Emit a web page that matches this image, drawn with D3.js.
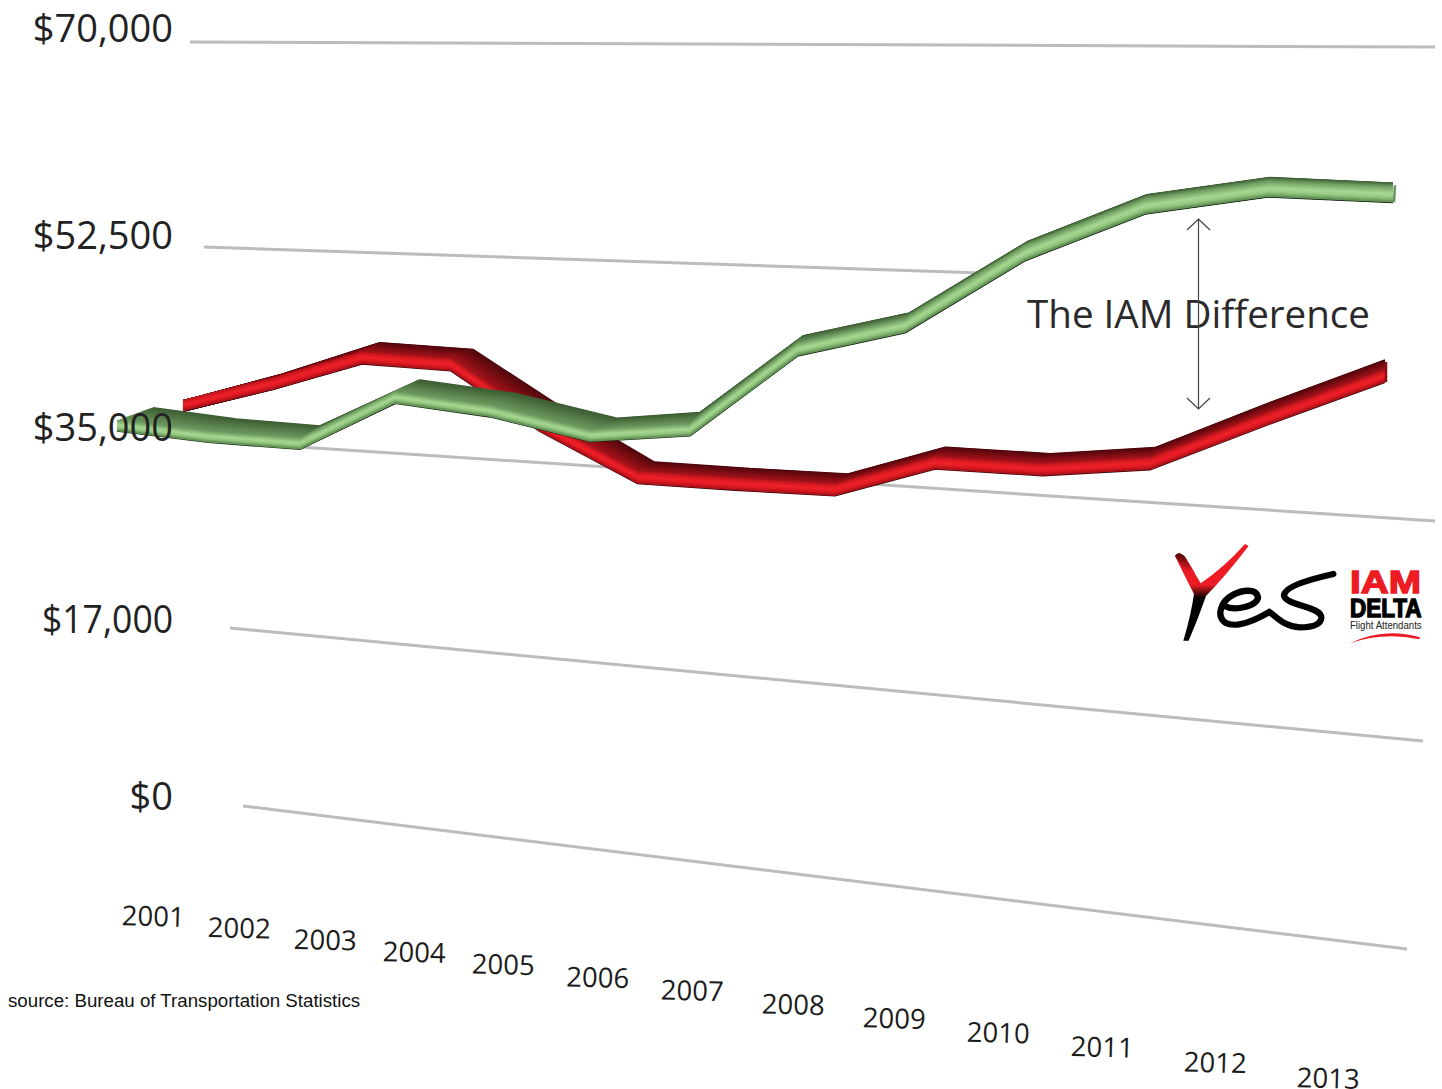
<!DOCTYPE html>
<html lang="en">
<head>
  <meta charset="UTF-8" />
  <title>The IAM Difference</title>
  <script src="https://d3js.org/d3.v7.min.js"></script>
  <style>
    html, body { margin: 0; padding: 0; background: #fff; overflow: hidden; }
    svg { display: block; }
    .grid { fill: none; stroke: #bcbcbc; stroke-width: 3px; }
    .tick-label { font-family: "Open Sans", sans-serif; font-size: 38px; fill: #222; text-anchor: end; }
    .year-label { font-family: "Open Sans", sans-serif; font-size: 27.5px; fill: #1c1c1c; text-anchor: middle; }
    .source { font-family: "Liberation Sans", Arial, sans-serif; font-size: 18.7px; fill: #111; }
    .note { font-family: "Open Sans", sans-serif; font-size: 39px; fill: #2a2a2a; }
    .arrow { fill: none; stroke: #444; stroke-width: 1.2px; }
  </style>
</head>
<body>

<svg width="1442" height="1089"></svg>

<script>
  // Values
  const years = d3.range(2001, 2014);
  const axisTicks = [0, 17000, 35000, 52500, 70000];
  const redValues = [37500, 39900, 42600, 42400, 37600, 33600, 33600, 33700, 36500, 36500, 37500, 41500, 45200];
  const greenValues = [35300, 34800, 34700, 39300, 38600, 37000, 38000, 45100, 47400, 53500, 57300, 58800, 58600];

  const svg = d3.select("svg");

  // The chart is in perspective: every value line has its own height and slope
  const gridStart = d3.scaleLinear().domain(axisTicks).range([776.1, 606.2, 427.4, 240.2, 41.3]);
  const gridSlope = d3.scaleLinear().domain(axisTicks).range([0.1229, 0.0947, 0.0652, 0.0335, 0.004]);
  const project = (value, px) => gridStart(value) + gridSlope(value) * px;

  // Years get wider apart to the right, and each series sits at its own depth
  const anchorYears = [2001, 2003, 2005, 2007, 2009, 2011, 2013];
  const xRed = d3.scaleLinear().domain(anchorYears).range([183, 362, 540, 735, 935, 1150, 1385]);
  const xGreen = d3.scaleLinear().domain(anchorYears).range([117, 300, 490, 690, 905, 1145, 1393]);
  const xLabel = d3.scaleLinear().domain(anchorYears).range([153, 325, 503, 692, 894, 1102, 1328]);
  const yLabel = d3.scaleLinear().domain([153, 1328]).range([926, 1088]);
  const yTickLabel = d3.scaleLinear().domain(axisTicks).range([810, 633, 441, 249, 42]);

  // Gridlines (52,500 stops behind the green ribbon)
  const gridEnds = [[243, 1407], [230, 1423], [220, 1435], [204, 990], [190, 1435]];
  const gridLine = d3.line();
  svg.selectAll(".grid")
    .data(axisTicks)
    .enter()
    .append("path")
    .attr("class", "grid")
    .attr("d", (d, i) => gridLine(gridEnds[i].map(px => [px, project(d, px)])));

  // 3D ribbon: stacks of offset lines, back to front
  const ribbon = d3.line();

  function drawRibbon(values, x, shape, colors) {
    const g = svg.append("g");
    const bottom = years.map((yr, i) => {
      const px = x(yr);
      return { px, py: project(values[i], px), dx: shape.depthX(px), dy: shape.depthY(px), band: shape.band(px) };
    });

    // underside
    g.selectAll(".under")
      .data(d3.range(0, 1.01, 0.1))
      .enter()
      .append("path")
      .attr("fill", "none")
      .attr("stroke", colors.under)
      .attr("stroke-width", 2)
      .attr("d", t => ribbon(bottom.map(p => [p.px + p.dx * t, p.py - 1 - p.dy * t])));

    // top face, dark at the back
    const topColor = d3.scaleLinear().domain([0, 1]).range(colors.top);
    g.selectAll(".top")
      .data(d3.range(1, -0.001, -0.04))
      .enter()
      .append("path")
      .attr("fill", "none")
      .attr("stroke-linejoin", "bevel")
      .attr("stroke", t => topColor(1 - t))
      .attr("stroke-width", 1.6)
      .attr("d", t => ribbon(bottom.map(p => [p.px + p.dx * t, p.py - p.band - p.dy * t])));

    // front band, brightest near the middle
    const bandColor = d3.scaleLinear().domain([0, 0.25, 0.55, 1]).range(colors.band);
    g.selectAll(".band")
      .data(d3.range(1, -0.001, -0.06))
      .enter()
      .append("path")
      .attr("fill", "none")
      .attr("stroke-linejoin", "bevel")
      .attr("stroke", t => bandColor(t))
      .attr("stroke-width", 1.6)
      .attr("d", t => ribbon(bottom.map(p => [p.px, p.py - 1 - (p.band - 1) * t])));

    // end cap
    const end = bottom[bottom.length - 1];
    g.append("path")
      .attr("fill", "none")
      .attr("stroke", colors.cap)
      .attr("stroke-width", 2.5)
      .attr("d", ribbon([[end.px + 1, end.py - 1], [end.px + 1 + colors.capLean, end.py - end.band - end.dy + 2]]));
  }

  drawRibbon(redValues, xRed,
    {
      depthX: d3.scaleLinear().domain([183, 362, 540, 637, 835, 1042, 1267, 1385]).range([1, 18, 26, 17, 13, 8, 2, 0]),
      depthY: d3.scaleLinear().domain([183, 283, 362, 1385]).range([0, 5, 10, 11]),
      band: d3.scaleLinear().domain([183, 362, 1385]).range([11, 12, 12])
    },
    { under: "#30060a", top: ["#4e070c", "#a9151c"], band: ["#a5121a", "#dc1a22", "#f0222a", "#c2161d"], cap: "#8a1015", capLean: 0 });

  drawRibbon(greenValues, xGreen,
    {
      depthX: d3.scaleLinear().domain([117, 300, 395, 590, 690, 800, 1025, 1393]).range([36, 20, 25, 27, 10, 6, 3, 0]),
      depthY: d3.scaleLinear().domain([117, 690, 800, 1025, 1393]).range([13, 12, 8, 5, 4]),
      band: d3.scaleLinear().domain([117, 690, 1025, 1393]).range([11, 12, 15, 16])
    },
    { under: "#10200c", top: ["#3d5c33", "#6f9b61"], band: ["#5f8c52", "#8fc47c", "#a8d893", "#72a064"], cap: "#6a9560", capLean: 1 });

  // Value labels sit on top of the ribbons
  svg.selectAll(".tick-label")
    .data(axisTicks)
    .enter()
    .append("text")
    .attr("class", "tick-label")
    .attr("x", 173)
    .attr("y", d => yTickLabel(d))
    .attr("textLength", d => d === 17000 ? 131 : null)
    .attr("lengthAdjust", "spacingAndGlyphs")
    .text(d => d3.format("$,")(d));

  svg.selectAll(".year-label")
    .data(years)
    .enter()
    .append("text")
    .attr("class", "year-label")
    .attr("x", d => xLabel(d))
    .attr("y", d => yLabel(xLabel(d)))
    .attr("transform", d => `rotate(1.5 ${xLabel(d)} ${yLabel(xLabel(d))})`)
    .text(d => d);

  svg.append("text")
    .attr("class", "source")
    .attr("x", 8)
    .attr("y", 1007)
    .text("source: Bureau of Transportation Statistics");

  // The IAM Difference
  svg.append("text")
    .attr("class", "note")
    .attr("x", 1027)
    .attr("y", 328)
    .attr("textLength", 343)
    .attr("lengthAdjust", "spacingAndGlyphs")
    .text("The IAM Difference");

  svg.append("path")
    .attr("class", "arrow")
    .attr("d", "M1198.5,219V409M1187,230L1198.5,219L1210,230M1187,398L1198.5,409L1210,398");

  // Logo
  const defs = svg.append("defs");
  const yGrad = defs.append("linearGradient")
    .attr("id", "logoY").attr("gradientUnits", "userSpaceOnUse")
    .attr("x1", 0).attr("y1", 40).attr("x2", 0).attr("y2", 240);
  yGrad.append("stop").attr("offset", 0.62).attr("stop-color", "#ed1c24");
  yGrad.append("stop").attr("offset", 0.82).attr("stop-color", "#000");
  const tipGrad = defs.append("linearGradient")
    .attr("id", "logoTip").attr("gradientUnits", "userSpaceOnUse")
    .attr("x1", 0).attr("y1", 65).attr("x2", 0).attr("y2", 125);
  tipGrad.append("stop").attr("offset", 0).attr("stop-color", "#3a0508");
  tipGrad.append("stop").attr("offset", 1).attr("stop-color", "#ed1c24");

  const logo = svg.append("g").attr("transform", "translate(1150,530) scale(0.3333)");
  logo.append("path")
    .attr("fill", "url(#logoY)")
    .attr("d", "M75,78Q85,60 105,80L152,160Q225,110 285,42L296,48Q225,140 168,198Q145,265 116,332L100,332Q122,260 132,192Q100,130 75,78Z");
  logo.append("path")
    .attr("fill", "url(#logoTip)")
    .attr("d", "M75,78Q85,60 105,80L135,130L118,135Q95,110 75,78Z");
  logo.append("path")
    .attr("fill", "none").attr("stroke", "#000").attr("stroke-width", 19).attr("stroke-linecap", "round")
    .attr("d", "M224,228C255,245 322,228 324,202C320,176 280,178 250,194C212,214 198,258 226,278C262,298 320,268 358,246C378,258 400,290 450,292C490,292 512,282 514,264C516,228 405,228 402,196C404,170 480,148 550,132");
  logo.append("text")
    .attr("x", 600).attr("y", 190)
    .attr("textLength", 213).attr("lengthAdjust", "spacingAndGlyphs")
    .style("font", "bold 92px 'Liberation Sans', Arial, sans-serif")
    .attr("fill", "#ed1c24").attr("stroke", "#ed1c24").attr("stroke-width", 4).text("IAM");
  logo.append("text")
    .attr("x", 600).attr("y", 261)
    .attr("textLength", 215).attr("lengthAdjust", "spacingAndGlyphs")
    .style("font", "bold 76px 'Liberation Sans', Arial, sans-serif")
    .attr("fill", "#000").attr("stroke", "#000").attr("stroke-width", 4).text("DELTA");
  logo.append("text")
    .attr("x", 600).attr("y", 298)
    .attr("textLength", 215).attr("lengthAdjust", "spacingAndGlyphs")
    .style("font", "34px 'Liberation Sans', Arial, sans-serif")
    .attr("fill", "#222").text("Flight Attendants");
  logo.append("path")
    .attr("fill", "#ed1c24")
    .attr("d", "M600,340Q700,290 810,322L808,328Q700,305 600,340Z");
</script>

</body>
</html>
